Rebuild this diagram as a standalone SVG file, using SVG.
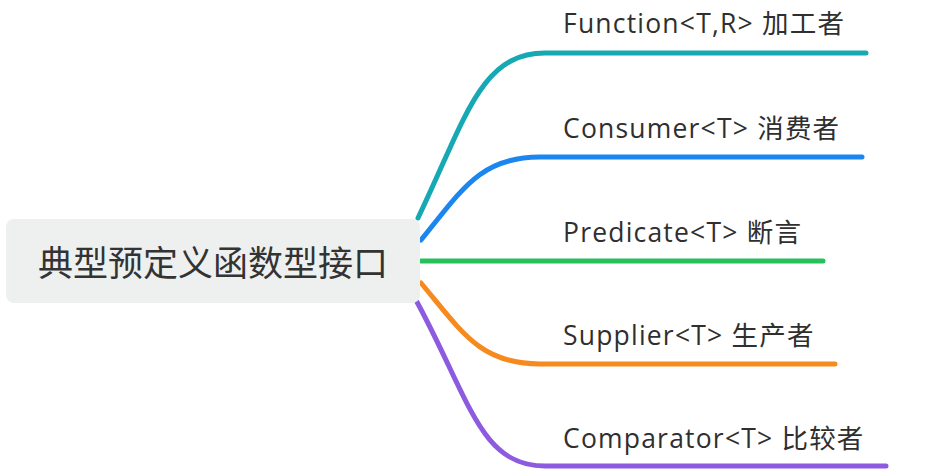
<svg xmlns="http://www.w3.org/2000/svg" width="925" height="470" viewBox="0 0 925 470">
<style>
.lbl{font-family:"Open Sans","Noto Sans CJK SC",sans-serif;font-size:26.5px;letter-spacing:1.2px;fill:#2f2f2f}
.root{font-family:"Noto Sans CJK SC",sans-serif;font-size:35px;fill:#333333}
.br{fill:none;stroke-width:5;stroke-linecap:round}
</style>
<rect width="925" height="470" fill="#ffffff"/>
<g id="connectors">
<path class="br" stroke="#17a9b3" d="M418,218 C465,120 480,53 545,53 L866,53"/>
<path class="br" stroke="#1b86f0" d="M421,240 C462,190 480,157 540,157 L862,157"/>
<path class="br" stroke="#25c25c" d="M421,261 L823,261"/>
<path class="br" stroke="#f68a1e" d="M421,283 C462,332 480,364 540,364 L835,364"/>
<path class="br" stroke="#8c5be0" d="M417,302 C470,400 480,466 545,466 L886,466"/>
</g>
<g id="root">
<rect x="6" y="219" width="414" height="84" rx="8" fill="#eef0ef"/>
<text class="root" x="213" y="276" text-anchor="middle">典型预定义函数型接口</text>
</g>
<g id="n1"><text class="lbl" x="563" y="33">Function&lt;T,R&gt; 加工者</text></g>
<g id="n2"><text class="lbl" x="563" y="138">Consumer&lt;T&gt; 消费者</text></g>
<g id="n3"><text class="lbl" x="563" y="242">Predicate&lt;T&gt; 断言</text></g>
<g id="n4"><text class="lbl" x="563" y="345">Supplier&lt;T&gt; 生产者</text></g>
<g id="n5"><text class="lbl" x="563" y="448">Comparator&lt;T&gt; 比较者</text></g>
</svg>
